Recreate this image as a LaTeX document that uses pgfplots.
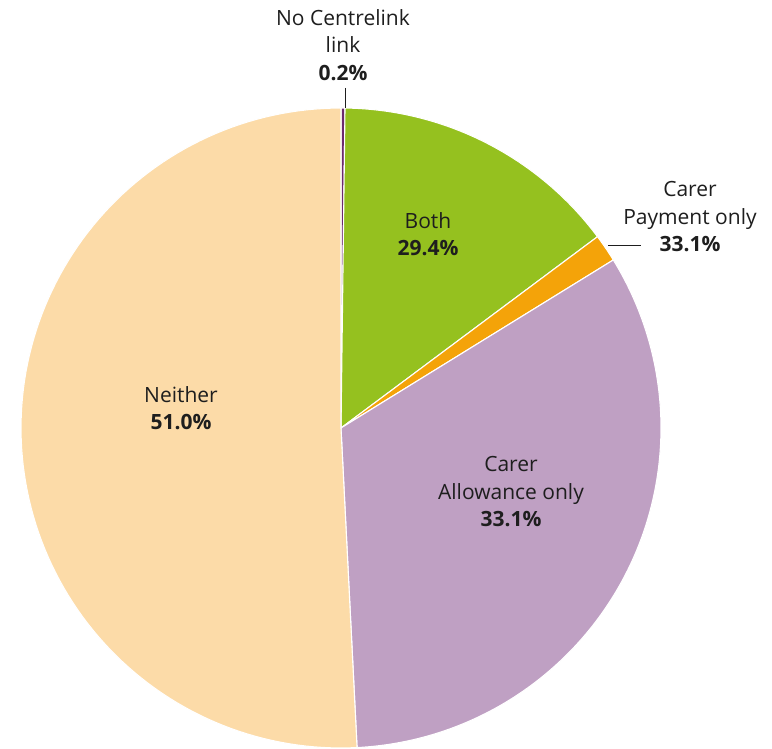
\documentclass[border=0pt]{standalone}
\usepackage{pgfplots}
\pgfplotsset{compat=1.18}
\usepackage{fontspec}
\setmainfont{Open Sans}
\definecolor{cNo}{HTML}{6B2A6E}
\definecolor{cBoth}{HTML}{95C11F}
\definecolor{cPay}{HTML}{F4A309}
\definecolor{cAll}{HTML}{BFA0C3}
\definecolor{cNei}{HTML}{FCDBA8}
\definecolor{txt}{HTML}{1E1E1E}
% slice shares (percent of the full circle), clockwise from 12 o'clock
\def\vNo{0.2}
\def\vBoth{14.6}
\def\vPay{1.4}
\def\vAll{33.0}
\def\vNei{50.8}
\newcommand\slice[3]{% start cum, end cum, colour
  \pgfmathsetmacro\aS{90-3.6*(#2)}%
  \pgfmathsetmacro\aE{90-3.6*(#1)}%
  \edef\temp{\noexpand\addplot[fill=#3, draw=white, line width=1.1pt, line join=round, domain=\aS:\aE, samples=120]
    ({320*cos(x)},{320*sin(x)}) -- (axis cs:0,0) -- cycle;}%
  \temp}
\begin{document}
\begin{tikzpicture}
\begin{axis}[
  width=772pt, height=748pt, scale only axis,
  xmin=-341, xmax=431, ymin=-320, ymax=428,
  hide axis, clip=false,
]
\path (axis cs:-341,-320) rectangle (axis cs:431,428);
\pgfmathsetmacro\cA{\vNo}
\pgfmathsetmacro\cB{\cA+\vBoth}
\pgfmathsetmacro\cC{\cB+\vPay}
\pgfmathsetmacro\cD{\cC+\vAll}
\pgfmathsetmacro\cE{\cD+\vNei}
\slice{0}{\cA}{cNo}
\slice{\cA}{\cB}{cBoth}
\slice{\cB}{\cC}{cPay}
\slice{\cC}{\cD}{cAll}
\slice{\cD}{\cE}{cNei}
\draw[txt, line width=0.6pt] (axis cs:4,340) -- (axis cs:4,320);
\draw[txt, line width=0.6pt] (axis cs:267,183) -- (axis cs:300,183);
\begin{scope}[every node/.style={align=center, text=txt, font=\fontsize{21}{27.5}\selectfont}]
\node at (axis cs:2,383) {No Centrelink\\link\\\textbf{0.2\%}};
\node at (axis cs:349,211) {Carer\\Payment only\\\textbf{33.1\%}};
\node at (axis cs:87,194) {Both\\\textbf{29.4\%}};
\node at (axis cs:170,-64) {Carer\\Allowance only\\\textbf{33.1\%}};
\node at (axis cs:-160,20) {Neither\\\textbf{51.0\%}};
\end{scope}
\end{axis}
\end{tikzpicture}
\end{document}
